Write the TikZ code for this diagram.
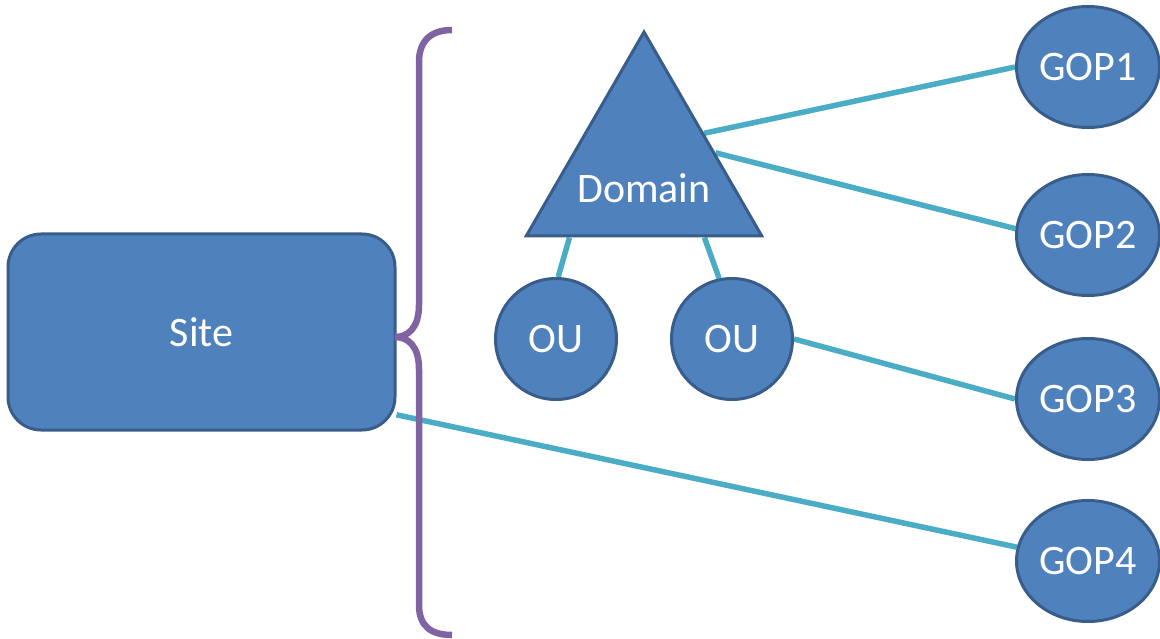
\documentclass[tikz,border=0pt]{standalone}
\usepackage{fontspec}
\setmainfont{Carlito}
\usetikzlibrary{shapes.geometric}
\pgfdeclarelayer{bg}
\pgfsetlayers{bg,main}
\definecolor{fillblue}{HTML}{4F81BD}
\definecolor{edgeblue}{HTML}{385D8A}
\definecolor{linkcol}{HTML}{4BACC6}
\definecolor{bracepurple}{HTML}{8064A2}
\begin{document}
\begin{tikzpicture}[x=1pt,y=-1pt,
  shapebox/.style={fill=fillblue,draw=edgeblue,line width=3pt,text=white,
    font=\fontsize{42}{50}\selectfont,inner sep=0pt},
  labeltext/.style={text=white,font=\fontsize{42}{50}\selectfont,inner sep=0pt},
  oubox/.style={shapebox,circle,minimum size=121pt},
  gopbox/.style={shapebox,ellipse,minimum width=143pt,minimum height=121pt},
  link/.style={draw=linkcol,line width=5.5pt},
  bracestyle/.style={draw=bracepurple,line width=6.5pt}]
\useasboundingbox (0,0) rectangle (1160,639);
\node[shapebox,rounded corners=33pt,minimum width=387pt,minimum height=196pt] (site) at (201.5,332) {Site};
\node[shapebox,regular polygon,regular polygon sides=3,minimum size=272pt] (dom) at (644,168) {};
\node[labeltext] (domlabel) at (644,188) {Domain};
\node[oubox] (ou1) at (556,339) {OU};
\node[oubox] (ou2) at (732,339) {OU};
\node[gopbox] (gop1) at (1088,67) {GOP1};
\node[gopbox] (gop2) at (1088,235) {GOP2};
\node[gopbox] (gop3) at (1088,399) {GOP3};
\node[gopbox] (gop4) at (1088,561) {GOP4};
\begin{pgfonlayer}{bg}
\draw[link] (dom.30) -- (gop1.west);
\draw[link] (dom.12) -- (gop2.175);
\draw[link] (dom.223.4) -- (ou1.88);
\draw[link] (dom.-49.5) -- (ou2.102);
\draw[link] (ou2.east) -- (gop3.west);
\draw[link] (site.-23) -- (gop4.169);
\end{pgfonlayer}
\draw[bracestyle] (452,30) .. controls (432,30) and (419,40) .. (419,62) -- (419,305)
  .. controls (419,328) and (408,337) .. (395,337)
  .. controls (408,337) and (419,346) .. (419,369) -- (419,605)
  .. controls (419,627) and (432,635) .. (452,635);
\end{tikzpicture}
\end{document}
